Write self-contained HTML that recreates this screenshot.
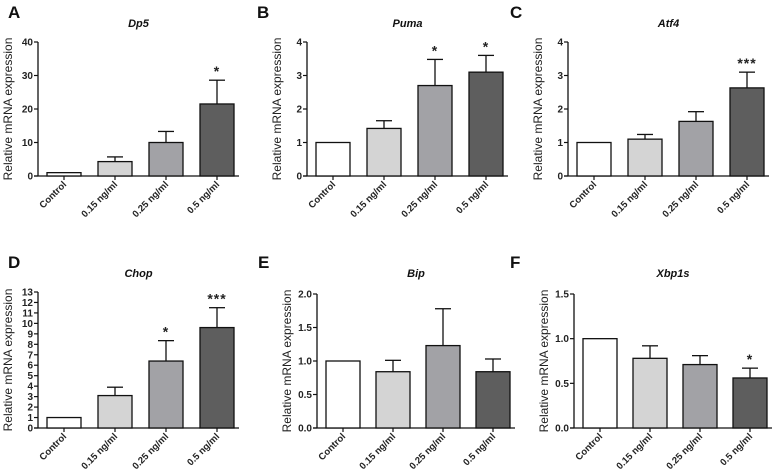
<!DOCTYPE html>
<html><head><meta charset="utf-8"><style>
html,body{margin:0;padding:0;background:#fff;width:780px;height:476px;overflow:hidden}
svg{display:block}
text{font-family:"Liberation Sans",Arial,sans-serif}
</style></head><body>
<svg id="fig" width="780" height="476" viewBox="0 0 780 476"></svg>
<script>
const categories = ["Control","0.15 ng/ml","0.25 ng/ml","0.5 ng/ml"];
const colors = ["#ffffff","#d4d4d4","#a2a2a6","#5e5e5e"];
const dp5Values = [1, 4.3, 10, 21.5];
const dp5Errors = [0, 5.7, 13.3, 28.6];
const dp5Stars = ["","","","*"];
const dp5Ticks = [0,10,20,30,40];
const pumaValues = [1, 1.42, 2.7, 3.1];
const pumaErrors = [0, 1.65, 3.48, 3.6];
const pumaStars = ["","","*","*"];
const pumaTicks = [0,1,2,3,4];
const atf4Values = [1, 1.1, 1.63, 2.63];
const atf4Errors = [0, 1.24, 1.92, 3.1];
const atf4Stars = ["","","","***"];
const atf4Ticks = [0,1,2,3,4];
const chopValues = [1, 3.1, 6.4, 9.6];
const chopErrors = [0, 3.9, 8.35, 11.5];
const chopStars = ["","","*","***"];
const chopTicks = [0,1,2,3,4,5,6,7,8,9,10,11,12,13];
const bipValues = [1, 0.84, 1.23, 0.84];
const bipErrors = [0, 1.01, 1.78, 1.03];
const bipStars = ["","","",""];
const bipTicks = ["0.0","0.5","1.0","1.5","2.0"];
const xbpValues = [1, 0.78, 0.71, 0.56];
const xbpErrors = [0, 0.92, 0.81, 0.67];
const xbpStars = ["","","","*"];
const xbpTicks = ["0.0","0.5","1.0","1.5"];

const NS="http://www.w3.org/2000/svg";
const svg=document.getElementById('fig');
function mk(tag,attrs,parent,txt){const e=document.createElementNS(NS,tag);for(const k in attrs)e.setAttribute(k,attrs[k]);if(txt!==undefined)e.textContent=txt;(parent||svg).appendChild(e);return e;}

const panels=[
 {id:'a',letter:'A',title:'Dp5',lx:8,ly:18,ax:38,top:42,bot:176,step:51,v:dp5Values,e:dp5Errors,s:dp5Stars,t:dp5Ticks},
 {id:'b',letter:'B',title:'Puma',lx:257,ly:18,ax:307,top:42,bot:176,step:51,v:pumaValues,e:pumaErrors,s:pumaStars,t:pumaTicks},
 {id:'c',letter:'C',title:'Atf4',lx:510,ly:18,ax:568,top:42,bot:176,step:51,v:atf4Values,e:atf4Errors,s:atf4Stars,t:atf4Ticks},
 {id:'d',letter:'D',title:'Chop',lx:8,ly:268,ax:38,top:292,bot:428,step:51,v:chopValues,e:chopErrors,s:chopStars,t:chopTicks},
 {id:'e',letter:'E',title:'Bip',lx:258,ly:268,ax:317,top:294,bot:428,step:50,v:bipValues,e:bipErrors,s:bipStars,t:bipTicks},
 {id:'f',letter:'F',title:'Xbp1s',lx:510,ly:268,ax:574,top:294,bot:428,step:50,v:xbpValues,e:xbpErrors,s:xbpStars,t:xbpTicks}
];

panels.forEach(p=>{
  const g=mk('g',{});
  
  
  const tmin=parseFloat(p.t[0]), tmax=parseFloat(p.t[p.t.length-1]);
  const y=v=>p.bot-(v-tmin)/(tmax-tmin)*(p.bot-p.top);
  const bw=34, x0=p.ax+9;
  const axEnd=x0+3*p.step+bw+5;
  const L=mk('text',{x:p.lx,y:p.ly,'font-size':17,'font-weight':'bold',fill:'#111'},g,p.letter);
   
  const T=mk('text',{x:(p.ax+axEnd)/2,y:p.ly+9,'font-size':11,'font-weight':'bold','font-style':'italic','text-anchor':'middle',fill:'#111'},g,p.title);
   
  const YL=mk('text',{transform:`translate(${p.ax-26},${(p.top+p.bot)/2}) rotate(-90)`,'font-size':12,'text-anchor':'middle',fill:'#222'},g,'Relative mRNA expression');
   
  // axes
  const ya=mk('line',{x1:p.ax,y1:p.top,x2:p.ax,y2:p.bot,stroke:'#111','stroke-width':1.3},g);
   
  const xa=mk('line',{x1:p.ax-4,y1:p.bot,x2:axEnd,y2:p.bot,stroke:'#111','stroke-width':1.3},g);
   
  p.t.forEach(tv=>{
    const yy=y(parseFloat(tv));
    mk('line',{x1:p.ax-4,y1:yy,x2:p.ax,y2:yy,stroke:'#111','stroke-width':1.2},g);
    const tl=mk('text',{x:p.ax-5,y:yy+3.5,'font-size':10,'font-weight':'bold','text-anchor':'end',fill:'#222'},g,String(tv));
     
  });
  categories.forEach((c,i)=>{
    const bx=x0+i*p.step, cx=bx+bw/2;
    const v=p.v[i], er=p.e[i];
    if(er>v){
      const el=mk('line',{x1:cx,y1:y(er),x2:cx,y2:y(v),stroke:'#111','stroke-width':1.3},g);
       
      mk('line',{x1:cx-8,y1:y(er),x2:cx+8,y2:y(er),stroke:'#111','stroke-width':1.3},g);
    }
    const r=mk('rect',{x:bx,y:y(v),width:bw,height:p.bot-y(v),fill:colors[i],stroke:'#111','stroke-width':1.3},g);
    
    
    mk('line',{x1:cx,y1:p.bot,x2:cx,y2:p.bot+4,stroke:'#111','stroke-width':1.2},g);
    const xl=mk('text',{transform:`translate(${cx+3},${p.bot+9}) rotate(-45)`,'font-size':9.5,'font-weight':'bold','text-anchor':'end',fill:'#222'},g,c);
     
    if(p.s[i]){
      const st=mk('text',{x:cx,y:y(Math.max(er,v))-4,'font-size':14,'font-weight':'bold','text-anchor':'middle',fill:'#222','letter-spacing':1},g,p.s[i]);
       
    }
  });
});
</script>
</body></html>
